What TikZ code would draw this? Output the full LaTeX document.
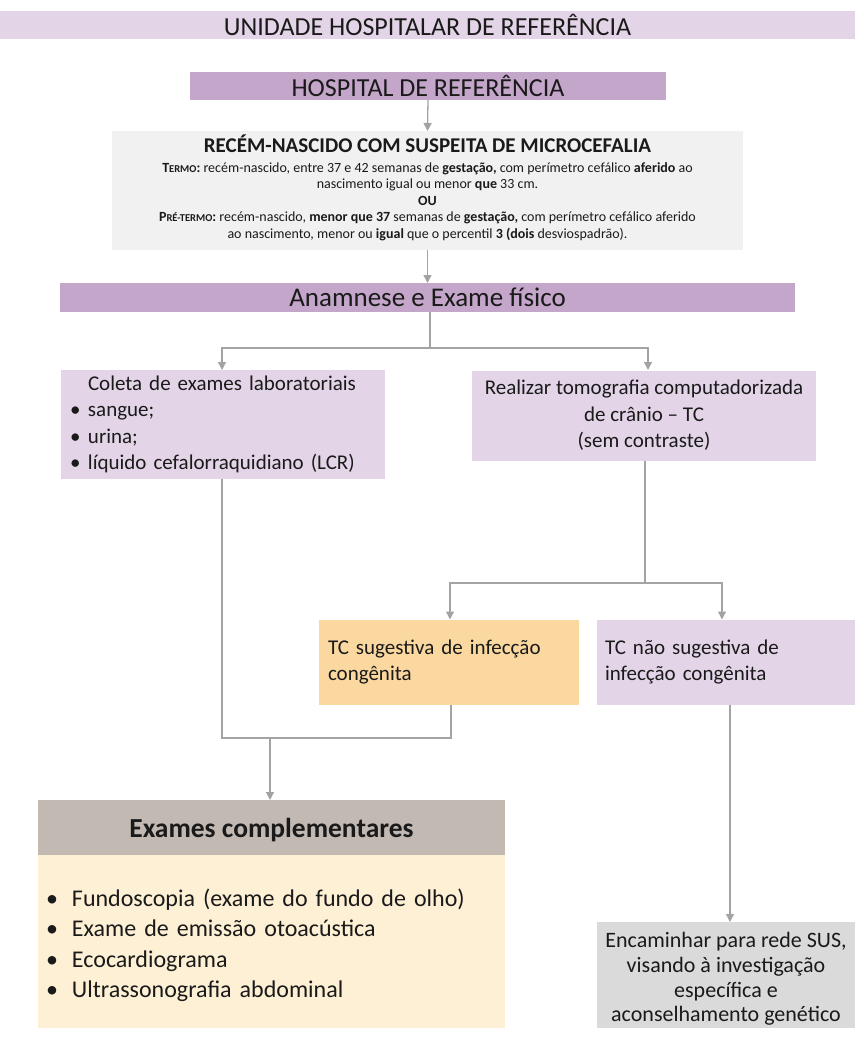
\documentclass[tikz,border=0pt]{standalone}
\usepackage{fontspec}
\setmainfont{Carlito}
\usetikzlibrary{arrows.meta}
\definecolor{lpurple}{HTML}{E3D5E7}
\definecolor{dpurple}{HTML}{C3A6C9}
\definecolor{lgray}{HTML}{F1F1F1}
\definecolor{mgray}{HTML}{DADADA}
\definecolor{orangebox}{HTML}{FAD8A0}
\definecolor{headgray}{HTML}{C1B9B2}
\definecolor{cream}{HTML}{FEF0D5}
\definecolor{linegray}{HTML}{A3A3A3}
\definecolor{txt}{HTML}{1A1A1A}
\newcommand{\smc}[1]{{\fontsize{10.5}{16.5}\selectfont #1}}
\begin{document}
\begin{tikzpicture}[x=1pt,y=-1pt,
  box/.style={inner sep=0pt, outer sep=0pt, text=txt},
  conn/.style={draw=linegray, line width=1.3pt},
  arr/.style={conn, -{Triangle[width=8pt,length=8pt]}},
]
\useasboundingbox (0,0) rectangle (863,1039);

% banners
\node[box, fill=lpurple, minimum width=855, minimum height=28, font=\fontsize{26}{28}\selectfont] (unit) at (427.5,25) {UNIDADE HOSPITALAR DE REFERÊNCIA};
\node[box, fill=dpurple, minimum width=476, minimum height=28, font=\fontsize{26}{28}\selectfont] (hosp) at (428,86) {HOSPITAL DE REFERÊNCIA};

% RN box
\node[box, fill=lgray, minimum width=631, minimum height=119] (rn) at (427.5,190.5) {};
\node[box, align=center, font=\fontsize{14}{16.5}\selectfont] (rntext) at (427.5,188)
{{\fontsize{21}{23}\selectfont\bfseries RECÉM-NASCIDO COM SUSPEITA DE MICROCEFALIA}\\[3pt]
 \textbf{T\smc{ERMO}:} recém-nascido, entre 37 e 42 semanas de \textbf{gestação,} com perímetro cefálico \textbf{aferido} ao\\
 nascimento igual ou menor \textbf{que} 33 cm.\\
 \textbf{OU}\\
 \textbf{P\smc{RÉ-TERMO}:} recém-nascido, \textbf{menor que 37} semanas de \textbf{gestação,} com perímetro cefálico aferido\\
 ao nascimento, menor ou \textbf{igual} que o percentil \textbf{3 (dois} desviospadrão).};

\node[box, fill=dpurple, minimum width=735, minimum height=29, font=\fontsize{27}{29}\selectfont] (anam) at (427.5,297.5) {Anamnese e Exame físico};

% second row
\node[box, fill=lpurple, minimum width=324, minimum height=109, align=left, text width=306, font=\fontsize{21}{26.5}\selectfont] (lab) at (223,424.5)
{\hspace*{18pt}Coleta de exames laboratoriais\\
 \makebox[18pt][l]{\textbullet}sangue;\\
 \makebox[18pt][l]{\textbullet}urina;\\
 \makebox[18pt][l]{\textbullet}líquido cefalorraquidiano (LCR)};

\node[box, fill=lpurple, minimum width=344, minimum height=90, align=center, font=\fontsize{21}{26.5}\selectfont] (tc) at (644,415.5)
{Realizar tomografia computadorizada\\ de crânio -- TC\\ (sem contraste)};

% third row
\node[box, fill=orangebox, minimum width=260, minimum height=85, align=left, text width=242, font=\fontsize{21}{25.5}\selectfont] (sug) at (449,662)
{TC sugestiva de infecção\\ congênita};
\node[box, fill=lpurple, minimum width=258, minimum height=85, align=left, text width=242, font=\fontsize{21}{25.5}\selectfont] (nsug) at (726,662)
{TC não sugestiva de\\ infecção congênita};

% exames complementares
\node[box, fill=headgray, minimum width=467, minimum height=55] (exh) at (271.5,827.5) {};
\node[box, font=\fontsize{27.5}{30}\selectfont\bfseries] (exhtext) at (271.5,830) {Exames complementares};
\node[box, fill=cream, minimum width=467, minimum height=173, anchor=north] (exb) at (exh.south) {};
\node[box, align=left, text width=455, font=\fontsize{24}{30.5}\selectfont] (exbtext) at ([yshift=-4pt]exb.center)
{\hspace*{2pt}\makebox[26pt][l]{\textbullet}Fundoscopia (exame do fundo de olho)\\
 \hspace*{2pt}\makebox[26pt][l]{\textbullet}Exame de emissão otoacústica\\
 \hspace*{2pt}\makebox[26pt][l]{\textbullet}Ecocardiograma\\
 \hspace*{2pt}\makebox[26pt][l]{\textbullet}Ultrassonografia abdominal};

\node[box, fill=mgray, minimum width=258, minimum height=106] (sus) at (726,975) {};
\node[box, align=center, font=\fontsize{22}{24.7}\selectfont] (sustext) at (726,979)
{Encaminhar para rede SUS,\\ visando à investigação\\ específica e\\ aconselhamento genético};

% connectors
\draw[arr] (hosp.south) -- (rn.north);
\draw[arr] (rn.south) -- (anam.north);
\coordinate (s1) at (430,348);
\draw[conn] (anam.south -| s1) -- (s1);
\draw[arr] (s1) -| (222,370);
\draw[arr] (s1) -| (648,370);
\coordinate (s2) at (645,583);
\draw[conn] (tc.south -| s2) -- (s2);
\draw[arr] (s2) -| (450,619.5);
\draw[arr] (s2) -| (722,619.5);
\coordinate (j1) at (222,738);
\coordinate (j2) at (451,738);
\coordinate (j3) at (270,738);
\draw[conn] (lab.south -| j1) -- (j1) -- (j2) -- (sug.south -| j2);
\draw[arr] (j3) -- (exh.north -| j3);
\draw[arr] (nsug.south -| 730,0) -- (sus.north -| 730,0);
\end{tikzpicture}
\end{document}
